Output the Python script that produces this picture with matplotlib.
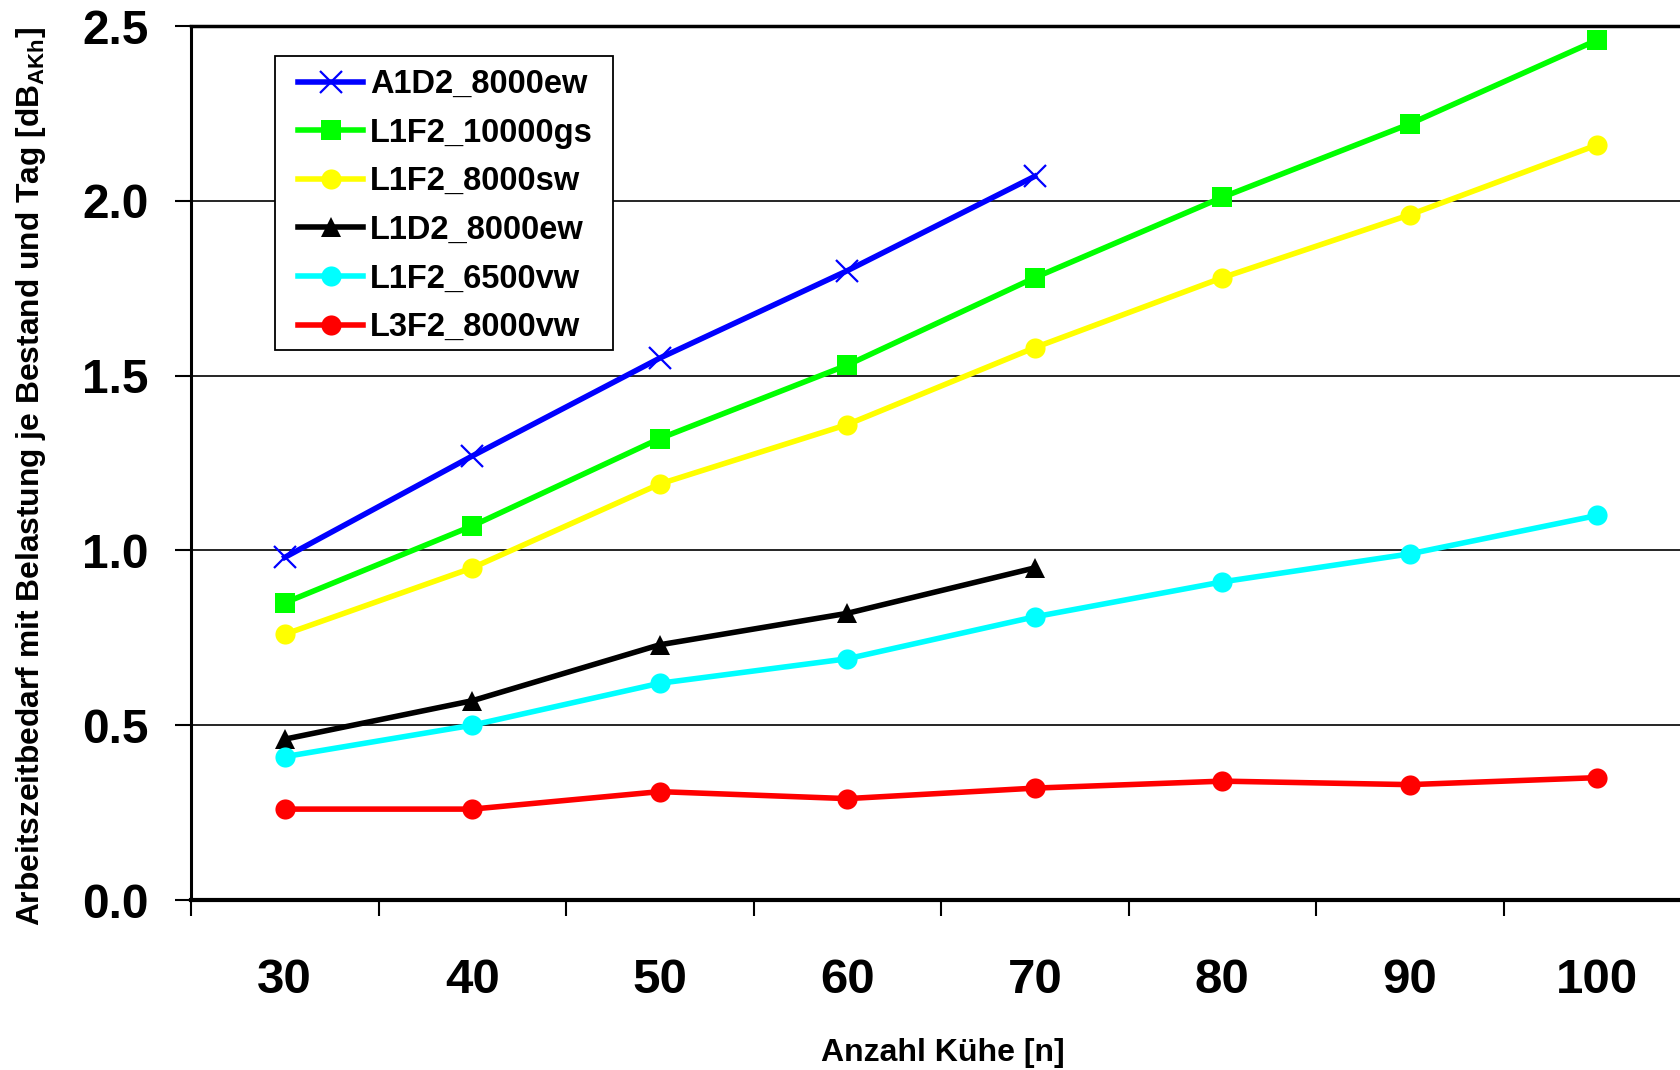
import numpy as np
import matplotlib
matplotlib.use('Agg')
import matplotlib.pyplot as plt
from matplotlib.patches import Rectangle
from matplotlib.ticker import FixedLocator, NullFormatter, FixedFormatter

plt.rcParams['font.family'] = ['Liberation Sans', 'DejaVu Sans']
plt.rcParams['font.weight'] = 'bold'
plt.rcParams['mathtext.fontset'] = 'custom'
plt.rcParams['mathtext.rm'] = 'Liberation Sans:bold'
plt.rcParams['mathtext.it'] = 'Liberation Sans:bold'
plt.rcParams['mathtext.bf'] = 'Liberation Sans:bold'

# categories (number of cows)
cows = ['30', '40', '50', '60', '70', '80', '90', '100']

# working time per herd and day
a1d2_8000ew = [0.98, 1.27, 1.55, 1.80, 2.07]
l1f2_10000gs = [0.85, 1.07, 1.32, 1.53, 1.78, 2.01, 2.22, 2.46]
l1f2_8000sw = [0.76, 0.95, 1.19, 1.36, 1.58, 1.78, 1.96, 2.16]
l1d2_8000ew = [0.46, 0.57, 0.73, 0.82, 0.95]
l1f2_6500vw = [0.41, 0.50, 0.62, 0.69, 0.81, 0.91, 0.99, 1.10]
l3f2_8000vw = [0.26, 0.26, 0.31, 0.29, 0.32, 0.34, 0.33, 0.35]

series = [
    ('A1D2_8000ew', a1d2_8000ew, '#0000FF', 'x'),
    ('L1F2_10000gs', l1f2_10000gs, '#00FF00', 's'),
    ('L1F2_8000sw', l1f2_8000sw, '#FFFF00', 'o'),
    ('L1D2_8000ew', l1d2_8000ew, '#000000', '^'),
    ('L1F2_6500vw', l1f2_6500vw, '#00FFFF', 'o'),
    ('L3F2_8000vw', l3f2_8000vw, '#FF0000', 'o'),
]

fig = plt.figure(figsize=(16.8, 10.7), dpi=100)
ax = fig.add_axes([191 / 1680, 1 - 900 / 1070, 1500 / 1680, (900 - 26) / 1070])

for name, vals, col, mk in series:
    x = np.arange(len(vals))
    if mk == 'x':
        ax.plot(x, vals, color=col, lw=4, marker=mk, ms=16, mew=1.6,
                label=name, clip_on=False)
    else:
        ax.plot(x, vals, color=col, lw=4, marker=mk, ms=14.5, mew=0,
                label=name, clip_on=False)

ax.set_xlim(-0.5, 7.5)
ax.set_ylim(0, 2.5)

# y axis
ax.set_yticks(np.arange(0, 2.51, 0.5))
ax.set_yticklabels(['%.1f' % v for v in np.arange(0, 2.51, 0.5)])
ax.tick_params(axis='y', direction='out', length=11.5, width=1.5, pad=19,
               labelsize=34.5)
for v in [0.5, 1.0, 1.5, 2.0]:
    ax.axhline(v, color='black', lw=1.2, zorder=0)

# x axis: ticks between categories, labels at centers
ax.xaxis.set_major_locator(FixedLocator(np.arange(-0.5, 8, 1)))
ax.xaxis.set_major_formatter(NullFormatter())
ax.xaxis.set_minor_locator(FixedLocator(np.arange(len(cows))))
ax.xaxis.set_minor_formatter(FixedFormatter(cows))
ax.tick_params(axis='x', which='major', direction='out', length=11.5, width=1.5)
ax.tick_params(axis='x', which='minor', length=0, pad=42, labelsize=35.5)

ax.spines['left'].set_linewidth(2.2)
ax.spines['bottom'].set_linewidth(3)
ax.spines['top'].set_linewidth(2.5)
ax.spines['right'].set_linewidth(2.5)

fig.text(31 / 1680, 1 - 476 / 1070,
         'Arbeitszeitbedarf mit Belastung je Bestand und Tag [dB$_{\\mathrm{AKh}}$]',
         rotation=90, ha='center', va='center', fontsize=22.9, fontweight='bold')
fig.text(943 / 1680, 1 - 1053 / 1070, 'Anzahl Kühe [n]', ha='center',
         va='center', fontsize=23, fontweight='bold')

# legend frame drawn separately so the padding matches
box = Rectangle((275 / 1680, 1 - 350 / 1070), 338 / 1680, 294 / 1070,
                transform=fig.transFigure, facecolor='white', edgecolor='black',
                lw=1.3, zorder=4)
fig.add_artist(box)
leg = fig.legend(loc='upper left', bbox_to_anchor=(298 / 1680, 1 - 69 / 1070),
                 fontsize=23.5, frameon=False, handlelength=2.0,
                 handletextpad=0.2, labelspacing=0.54, borderpad=0,
                 borderaxespad=0)
leg.set_zorder(5)
for t in leg.get_texts():
    t.set_fontweight('bold')

fig.savefig('out.png', dpi=100)
